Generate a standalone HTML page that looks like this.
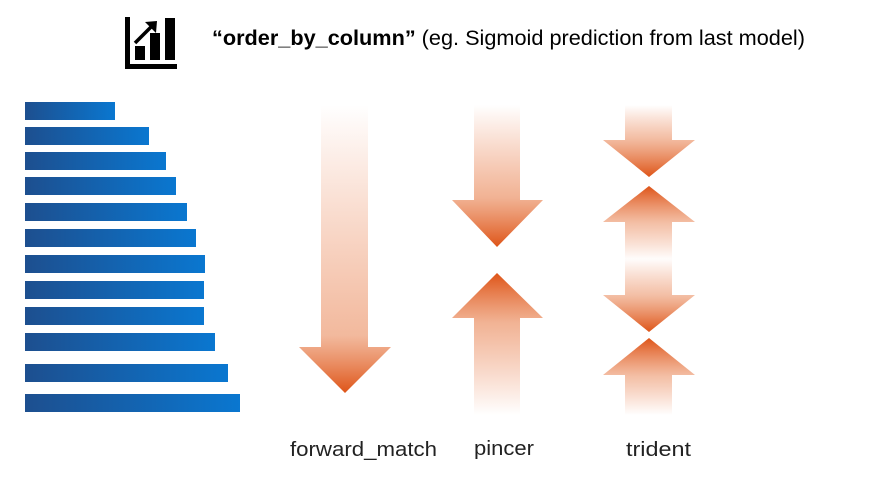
<!DOCTYPE html>
<html><head><meta charset="utf-8"><style>
body{margin:0;background:#fff;width:870px;height:491px;overflow:hidden;font-family:"Liberation Sans",sans-serif}
</style></head><body>
<svg width="870" height="491" xmlns="http://www.w3.org/2000/svg">
<defs>
<linearGradient id="bl" x1="0" x2="1" y1="0" y2="0"><stop offset="0" stop-color="#1d4f8f"/><stop offset="1" stop-color="#0a77d0"/></linearGradient>
<linearGradient id="fd" gradientUnits="userSpaceOnUse" x1="0" y1="105" x2="0" y2="393"><stop offset="0" stop-color="#e8703a" stop-opacity="0"/><stop offset="0.8" stop-color="#e8804d" stop-opacity="0.55"/><stop offset="1" stop-color="#de5418"/></linearGradient>
<linearGradient id="pd" gradientUnits="userSpaceOnUse" x1="0" y1="105" x2="0" y2="247"><stop offset="0" stop-color="#e8703a" stop-opacity="0"/><stop offset="0.65" stop-color="#e8804d" stop-opacity="0.6"/><stop offset="1" stop-color="#de5418"/></linearGradient>
<linearGradient id="pu" gradientUnits="userSpaceOnUse" x1="0" y1="415" x2="0" y2="273"><stop offset="0" stop-color="#e8703a" stop-opacity="0"/><stop offset="0.65" stop-color="#e8804d" stop-opacity="0.6"/><stop offset="1" stop-color="#de5418"/></linearGradient>
<linearGradient id="t1" gradientUnits="userSpaceOnUse" x1="0" y1="105" x2="0" y2="177"><stop offset="0" stop-color="#e8703a" stop-opacity="0"/><stop offset="0.45" stop-color="#e8804d" stop-opacity="0.5"/><stop offset="1" stop-color="#de5418"/></linearGradient>
<linearGradient id="t2" gradientUnits="userSpaceOnUse" x1="0" y1="260" x2="0" y2="186"><stop offset="0" stop-color="#e8703a" stop-opacity="0"/><stop offset="0.5" stop-color="#e8804d" stop-opacity="0.5"/><stop offset="1" stop-color="#de5418"/></linearGradient>
<linearGradient id="t3" gradientUnits="userSpaceOnUse" x1="0" y1="258" x2="0" y2="332"><stop offset="0" stop-color="#e8703a" stop-opacity="0"/><stop offset="0.5" stop-color="#e8804d" stop-opacity="0.5"/><stop offset="1" stop-color="#de5418"/></linearGradient>
<linearGradient id="t4" gradientUnits="userSpaceOnUse" x1="0" y1="415" x2="0" y2="338"><stop offset="0" stop-color="#e8703a" stop-opacity="0"/><stop offset="0.5" stop-color="#e8804d" stop-opacity="0.5"/><stop offset="1" stop-color="#de5418"/></linearGradient>
</defs>
<g fill="#000">
<rect x="125" y="17" width="5" height="52"/><rect x="125" y="64" width="52" height="5"/>
<rect x="135" y="46" width="10" height="14"/><rect x="150" y="33" width="10" height="27"/><rect x="165" y="18" width="10" height="42"/>
</g>
<path d="M135 43 L151 27" stroke="#000" stroke-width="3.5"/><path d="M145 22 L157 21 L156 33 Z" fill="#000"/>
<text x="212" y="45" font-size="21" fill="#000" textLength="593" lengthAdjust="spacingAndGlyphs"><tspan font-weight="bold">“order_by_column”</tspan> (eg. Sigmoid prediction from last model)</text>
<g fill="url(#bl)">
<rect x="25" y="102" width="90" height="18"/><rect x="25" y="127" width="124" height="18"/><rect x="25" y="152" width="141" height="18"/><rect x="25" y="177" width="151" height="18"/><rect x="25" y="203" width="162" height="18"/><rect x="25" y="229" width="171" height="18"/><rect x="25" y="255" width="180" height="18"/><rect x="25" y="281" width="179" height="18"/><rect x="25" y="307" width="179" height="18"/><rect x="25" y="333" width="190" height="18"/><rect x="25" y="364" width="203" height="18"/><rect x="25" y="394" width="215" height="18"/>
</g>
<path d="M321 105 H368 V347 H391 L345 393 L299 347 H321 Z" fill="url(#fd)"/>
<path d="M474 105 H520 V200 H543 L497 247 L452 200 H474 Z" fill="url(#pd)"/>
<path d="M474 415 H520 V318 H543 L497 273 L452 318 H474 Z" fill="url(#pu)"/>
<path d="M625 105 H672 V140 H695 L649 177 L603 140 H625 Z" fill="url(#t1)"/>
<path d="M625 260 H672 V222 H695 L649 186 L603 222 H625 Z" fill="url(#t2)"/>
<path d="M625 258 H672 V295 H695 L649 332 L603 295 H625 Z" fill="url(#t3)"/>
<path d="M625 415 H672 V375 H695 L649 338 L603 375 H625 Z" fill="url(#t4)"/>
<g font-size="20" fill="#222">
<text x="290" y="456" textLength="147" lengthAdjust="spacingAndGlyphs">forward_match</text>
<text x="474" y="455" textLength="60" lengthAdjust="spacingAndGlyphs">pincer</text>
<text x="626" y="456" textLength="65" lengthAdjust="spacingAndGlyphs">trident</text>
</g>
</svg>
</body></html>
